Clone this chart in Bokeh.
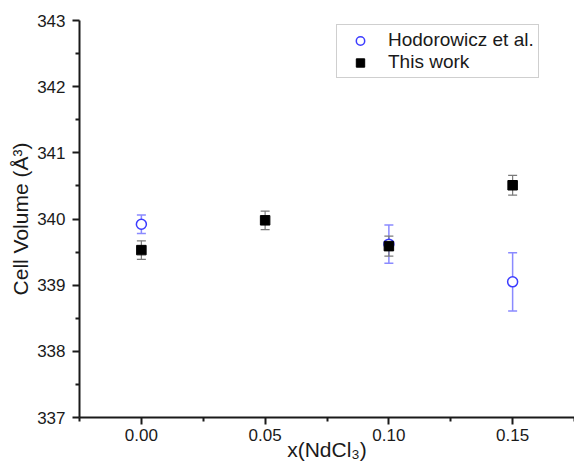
from bokeh.plotting import figure
from bokeh.models import ColumnDataSource, Whisker, TeeHead, Legend, LegendItem, Range1d, FixedTicker
from bokeh.embed import file_html
from bokeh.resources import INLINE

# Data
hod_x = [0.00, 0.10, 0.15]
hod_y = [339.92, 339.62, 339.05]
hod_err = [0.14, 0.29, 0.44]

tw_x = [0.00, 0.05, 0.10, 0.15]
tw_y = [339.53, 339.98, 339.59, 340.51]
tw_err = [0.14, 0.14, 0.15, 0.15]

x_ticks = [0.00, 0.05, 0.10, 0.15]
x_minor = [-0.025, 0.025, 0.075, 0.125, 0.175]
x_tick_labels = {0.0: "0.00", 0.05: "0.05", 0.1: "0.10", 0.15: "0.15"}
y_ticks = [337, 338, 339, 340, 341, 342, 343]
y_minor = [337.5, 338.5, 339.5, 340.5, 341.5, 342.5]

FONT = "Liberation Sans"
AX = "#1a1a1a"

p = figure(width=574, height=463, output_backend="svg", toolbar_location=None,
           x_range=Range1d(-0.025, 0.175), y_range=Range1d(337, 343),
           min_border_left=79, min_border_top=20, min_border_right=0, min_border_bottom=45)
p.outline_line_color = None
p.grid.visible = False
p.background_fill_color = "white"

hod_src = ColumnDataSource(dict(x=hod_x, y=hod_y,
                                lo=[v - e for v, e in zip(hod_y, hod_err)],
                                hi=[v + e for v, e in zip(hod_y, hod_err)]))
tw_src = ColumnDataSource(dict(x=tw_x, y=tw_y,
                               lo=[v - e for v, e in zip(tw_y, tw_err)],
                               hi=[v + e for v, e in zip(tw_y, tw_err)]))

blue_bar = "#8a8aff"
gray_bar = "#7a7a7a"

w1 = Whisker(source=hod_src, base="x", lower="lo", upper="hi", line_color=blue_bar, line_width=1.5,
             upper_head=TeeHead(size=9, line_color=blue_bar, line_width=1.5),
             lower_head=TeeHead(size=9, line_color=blue_bar, line_width=1.5))
p.add_layout(w1)
r1 = p.scatter("x", "y", source=hod_src, marker="circle", size=10, fill_color="white",
               line_color="#3c3cff", line_width=1.5)

w2 = Whisker(source=tw_src, base="x", lower="lo", upper="hi", line_color=gray_bar, line_width=1.2,
             upper_head=TeeHead(size=9, line_color=gray_bar, line_width=1.2),
             lower_head=TeeHead(size=9, line_color=gray_bar, line_width=1.2))
p.add_layout(w2)
r2 = p.scatter("x", "y", source=tw_src, marker="square", size=9.5, fill_color="black", line_color="black")

# Axes
p.xaxis.ticker = FixedTicker(ticks=x_ticks, minor_ticks=x_minor)
p.xaxis.major_label_overrides = x_tick_labels
p.yaxis.ticker = FixedTicker(ticks=y_ticks, minor_ticks=y_minor)
for ax in (p.xaxis[0], p.yaxis[0]):
    ax.axis_line_width = 2
    ax.axis_line_color = AX
    ax.major_tick_line_width = 2
    ax.minor_tick_line_width = 2
    ax.major_tick_line_color = AX
    ax.minor_tick_line_color = AX
    ax.major_tick_out = 7
    ax.major_tick_in = 0
    ax.minor_tick_out = 4
    ax.minor_tick_in = 0
    ax.major_label_text_font = FONT
    ax.major_label_text_font_size = "17px"
    ax.major_label_text_color = AX
    ax.axis_label_text_font = FONT
    ax.axis_label_text_font_style = "normal"
    ax.axis_label_text_font_size = "21px"
    ax.axis_label_text_color = AX

p.xaxis.axis_label = "x(NdCl₃)"
p.yaxis.axis_label = "Cell Volume (Å³)"
p.xaxis.major_label_standoff = 4
p.xaxis.axis_label_standoff = -6
p.yaxis.major_label_standoff = 7
p.yaxis.axis_label_standoff = 2

legend = Legend(items=[LegendItem(label="Hodorowicz et al.", renderers=[r1]),
                       LegendItem(label="This work", renderers=[r2])],
                location=(257, 398 - 9 - 50))
legend.border_line_color = "#a0a0a0"
legend.border_line_width = 1
legend.label_text_font = FONT
legend.label_text_font_size = "19px"
legend.label_text_color = AX
legend.padding = 4
legend.margin = 0
legend.spacing = 0
legend.label_height = 21
legend.glyph_height = 21
legend.glyph_width = 38
legend.label_standoff = 9
legend.background_fill_alpha = 1
p.add_layout(legend)

open("out.html", "w").write(file_html(p, INLINE))
